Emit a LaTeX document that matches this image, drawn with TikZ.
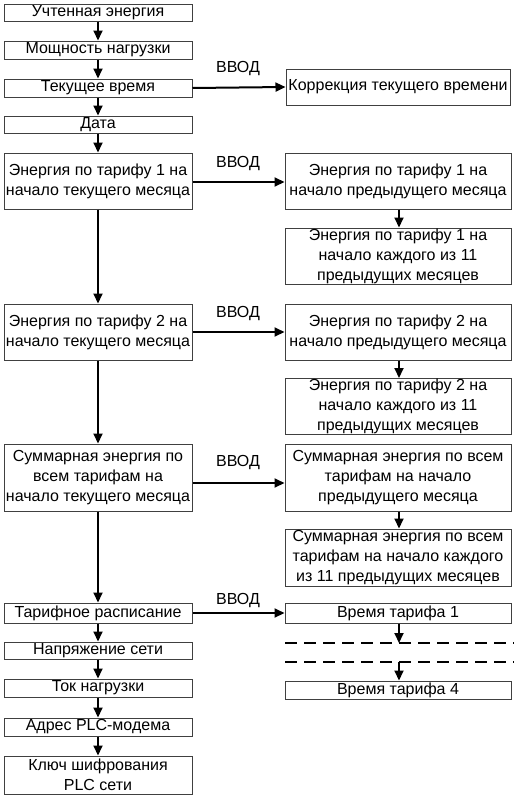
\documentclass[tikz,border=0pt]{standalone}
\usepackage{fontspec}
\setmainfont{Liberation Sans}
\usetikzlibrary{arrows.meta,calc}
\tikzset{
  box/.style={draw=black!75, line width=1pt, inner sep=0pt, align=center,
    font=\fontsize{16}{20}\selectfont, text=black},
  lbox/.style={box, minimum width=188pt},
  rbox/.style={box, minimum width=226pt},
  arr/.style={line width=2pt, -{Triangle[length=10pt,width=9pt]}},
  vvod/.style={anchor=base, inner sep=0pt, font=\fontsize{16}{20}\selectfont},
  dashline/.style={line width=2pt, dash pattern=on 12pt off 7pt}
}
\begin{document}
\begin{tikzpicture}[x=1pt,y=-1pt]
\useasboundingbox (0,0) rectangle (514,798);
% left column
\node[lbox, minimum height=17pt] (u1) at (98,12.5) {Учтенная энергия};
\node[lbox, minimum height=18pt] (u2) at (98,50) {Мощность нагрузки};
\node[lbox, minimum height=18pt] (u3) at (98,88) {Текущее время};
\node[lbox, minimum height=17pt] (u4) at (98,124.5) {Дата};
\node[lbox, minimum height=56pt] (e1) at (98,181) {Энергия по тарифу 1 на\\начало текущего месяца};
\node[lbox, minimum height=56pt] (e2) at (98,332) {Энергия по тарифу 2 на\\начало текущего месяца};
\node[lbox, minimum height=67pt] (s) at (98,477.5) {Суммарная энергия по\\всем тарифам на\\начало текущего месяца};
\node[lbox, minimum height=20pt] (t) at (98,613) {Тарифное расписание};
\node[lbox, minimum height=17pt] (n) at (98,650.5) {Напряжение сети};
\node[lbox, minimum height=18pt] (tok) at (98,688) {Ток нагрузки};
\node[lbox, minimum height=18pt] (adr) at (98,727) {Адрес PLC-модема};
\node[lbox, minimum height=38pt] (key) at (98,775) {Ключ шифрования\\PLC сети};
% right column
\node[box, minimum width=224pt, minimum height=36pt] (corr) at (398,87) {Коррекция текущего времени};
\node[rbox, minimum height=56pt] (r1a) at (398,181) {Энергия по тарифу 1 на\\начало предыдущего месяца};
\node[rbox, minimum height=56pt] (r1b) at (398,256) {Энергия по тарифу 1 на\\начало каждого из 11\\предыдущих месяцев};
\node[rbox, minimum height=56pt] (r2a) at (398,332) {Энергия по тарифу 2 на\\начало предыдущего месяца};
\node[rbox, minimum height=56pt] (r2b) at (398,406.5) {Энергия по тарифу 2 на\\начало каждого из 11\\предыдущих месяцев};
\node[rbox, minimum height=67pt] (r3a) at (398,477.5) {Суммарная энергия по всем\\тарифам на начало\\предыдущего месяца};
\node[rbox, minimum height=57pt] (r3b) at (398,557.5) {Суммарная энергия по всем\\тарифам на начало каждого\\из 11 предыдущих месяцев};
\node[rbox, minimum height=20pt] (ta1) at (398,613) {Время тарифа 1};
\node[rbox, minimum height=18pt] (ta4) at (398,690) {Время тарифа 4};
% labels
\node[vvod] (v1) at (238,72) {ВВОД};
\node[vvod] (v2) at (238,167) {ВВОД};
\node[vvod] (v3) at (238,317) {ВВОД};
\node[vvod] (v4) at (238,466) {ВВОД};
\node[vvod] (v5) at (238,604) {ВВОД};
% left arrows
\draw[arr] (u1) -- (u2);
\draw[arr] (u2) -- (u3);
\draw[arr] (u3) -- (u4);
\draw[arr] (u4) -- (e1);
\draw[arr] (e1) -- (e2);
\draw[arr] (e2) -- (s);
\draw[arr] (s) -- (t);
\draw[arr] (t) -- (n);
\draw[arr] (n) -- (tok);
\draw[arr] (tok) -- (adr);
\draw[arr] (adr) -- (key);
% horizontal arrows
\draw[arr] (u3.east) -- (corr.west);
\draw[arr] ($(e1.east)+(0,1)$) -- ($(r1a.west)+(0,1)$);
\draw[arr] (e2.east) -- (r2a.west);
\draw[arr] ($(s.east)+(0,5.5)$) -- ($(r3a.west)+(0,5.5)$);
\draw[arr] (t.east) -- (ta1.west);
% right arrows
\draw[arr] ($(r1a.south)+(1,0)$) -- ($(r1b.north)+(1,0)$);
\draw[arr] ($(r2a.south)+(1,0)$) -- ($(r2b.north)+(1,0)$);
\draw[arr] ($(r3a.south)+(1,0)$) -- ($(r3b.north)+(1,0)$);
% dashed lines
\coordinate (d1a) at (285,643);
\coordinate (d1b) at (514,643);
\coordinate (d2a) at (285,662);
\coordinate (d2b) at (514,662);
\draw[dashline] (d1a) -- (d1b);
\draw[dashline] (d2a) -- (d2b);
\draw[arr] ($(ta1.south)+(1,0)$) -- ($(ta1.south |- d1a)+(1,0)$);
\draw[arr] ($(ta4.north |- d2a)+(1,0)$) -- ($(ta4.north)+(1,0)$);
\end{tikzpicture}
\end{document}
